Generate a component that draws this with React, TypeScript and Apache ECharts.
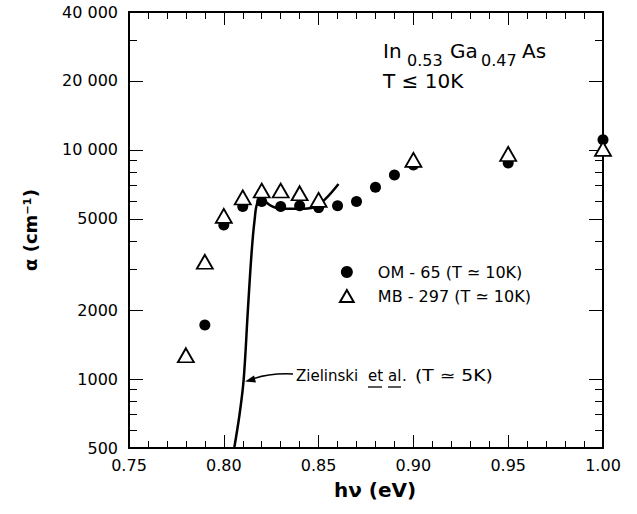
import React, { useEffect, useRef } from "react";
import * as echarts from "echarts";

// OM-65 (filled circles)
const OM65_X = [0.79, 0.8, 0.81, 0.82, 0.83, 0.84, 0.85, 0.86, 0.87, 0.88, 0.89, 0.9, 0.95, 1.0];
const OM65_A = [1720, 4700, 5660, 5950, 5660, 5700, 5600, 5700, 5960, 6870, 7780, 8600, 8780, 11070];

// MB-297 (open triangles)
const MB297_X = [0.78, 0.79, 0.8, 0.81, 0.82, 0.83, 0.84, 0.85, 0.9, 0.95, 1.0];
const MB297_A = [1270, 3250, 5150, 6200, 6650, 6650, 6470, 6050, 9050, 9600, 10100];

// Zielinski et al. curve
const ZIEL_X = [0.8055, 0.8083, 0.8105, 0.8127, 0.8147, 0.8163, 0.8178, 0.8205, 0.825, 0.8296, 0.8395, 0.8475, 0.8535, 0.8605];
const ZIEL_A = [500, 700, 1000, 2000, 3600, 5000, 5900, 6000, 5700, 5530, 5530, 5620, 6100, 7100];

// Axis ticks
const X_MAJOR = [0.75, 0.8, 0.85, 0.9, 0.95, 1.0];
const X_MINOR = [0.76, 0.77, 0.78, 0.79, 0.81, 0.82, 0.83, 0.84, 0.86, 0.87, 0.88, 0.89, 0.91, 0.92, 0.93, 0.94, 0.96, 0.97, 0.98, 0.99];
const Y_MAJOR = [500, 1000, 2000, 5000, 10000, 20000, 40000];
const Y_MINOR = [600, 700, 800, 900, 3000, 4000, 6000, 7000, 8000, 9000, 30000];

const S_OM = "OM - 65 (T ≃ 10K)";
const S_MB = "MB - 297 (T ≃ 10K)";
const S_Z = "Zielinski et al. (T ≃ 5K)";

const FONT = "DejaVu Sans";
const X_MIN = 0.75;
const X_MAX = 1.0;
const LOG_MIN = Math.log10(500);
const LOG_MAX = Math.log10(40000);

function fmtY(v: number): string {
  const n = Math.round(Math.pow(10, v));
  if (n >= 10000) {
    const s = String(n);
    return s.slice(0, s.length - 3) + " " + s.slice(s.length - 3);
  }
  return String(n);
}

const TEXTS: any[] = [
  { type: "text", left: 383, top: 41, style: { text: "In", font: `20px '${FONT}'`, fill: "#000" } },
  { type: "text", left: 407, top: 52, style: { text: "0.53", font: `16px '${FONT}'`, fill: "#000" } },
  { type: "text", left: 450, top: 41, style: { text: "Ga", font: `20px '${FONT}'`, fill: "#000" } },
  { type: "text", left: 481, top: 52, style: { text: "0.47", font: `16px '${FONT}'`, fill: "#000" } },
  { type: "text", left: 522, top: 41, style: { text: "As", font: `20px '${FONT}'`, fill: "#000" } },
  { type: "text", left: 383, top: 71, style: { text: "T ≤ 10K", font: `20px '${FONT}'`, fill: "#000" } },
  { type: "text", left: 296, top: 368, style: { text: "Zielinski", font: `15px '${FONT}'`, fill: "#000" } },
  { type: "text", left: 368, top: 368, style: { text: "et", font: `15px '${FONT}'`, fill: "#000" } },
  { type: "text", left: 388, top: 368, style: { text: "al", font: `15px '${FONT}'`, fill: "#000" } },
  { type: "text", left: 402, top: 368, style: { text: ".", font: `15px '${FONT}'`, fill: "#000" } },
  { type: "text", x: 415, y: 368, scaleX: 1.25, style: { text: "(T ≃ 5K)", font: `15px '${FONT}'`, fill: "#000" } },
  { type: "line", shape: { x1: 368, y1: 387, x2: 382, y2: 387 }, style: { stroke: "#000", lineWidth: 1.3 } },
  { type: "line", shape: { x1: 388, y1: 387, x2: 401, y2: 387 }, style: { stroke: "#000", lineWidth: 1.3 } },
  {
    type: "bezierCurve",
    shape: { x1: 293, y1: 374, cpx1: 272, cpy1: 373, cpx2: 260, cpy2: 376, x2: 250, y2: 380 },
    style: { stroke: "#000", lineWidth: 1.5, fill: null },
  },
  {
    type: "polygon",
    shape: { points: [[245, 381.5], [256, 382.5], [254, 375.5]] },
    style: { fill: "#000" },
  },
];

export default function App() {
  const ref = useRef<HTMLDivElement>(null);
  useEffect(() => {
    const chart = echarts.init(ref.current!, null, { renderer: "svg" });
    const mkLine = () => ({ show: true, onZero: false, lineStyle: { color: "#000", width: 2 } });
    const hiddenLine = () => ({ show: false, onZero: false, lineStyle: { color: "#000" } });

    // Axes that only carry tick marks (no line, no labels, no name)
    const xTickAxis = (pos: string, vals: number[], len: number) => ({
      type: "value",
      position: pos,
      min: X_MIN,
      max: X_MAX,
      axisLine: hiddenLine(),
      axisTick: { show: true, inside: true, length: len, customValues: vals },
      splitLine: { show: false },
      axisLabel: { show: false },
    });
    const yTickAxis = (pos: string, vals: number[], len: number) => ({
      type: "value",
      position: pos,
      min: LOG_MIN,
      max: LOG_MAX,
      axisLine: hiddenLine(),
      axisTick: { show: true, inside: true, length: len, customValues: vals.map((v) => Math.log10(v)) },
      splitLine: { show: false },
      axisLabel: { show: false },
    });

    const xb: any = {
      type: "value",
      position: "bottom",
      min: X_MIN,
      max: X_MAX,
      interval: 0.05,
      axisLine: mkLine(),
      axisTick: { show: false },
      minorTick: { show: false },
      splitLine: { show: false },
      axisLabel: {
        formatter: (v: number) => v.toFixed(2),
        margin: 9,
        fontSize: 16,
        color: "#000",
        fontFamily: FONT,
      },
      name: "hν (eV)",
      nameLocation: "middle",
      nameGap: 32,
      nameTextStyle: { fontSize: 20, fontWeight: "bold", color: "#000", fontFamily: FONT, padding: [0, 0, 0, 18] },
    };
    const xt: any = {
      type: "value",
      position: "top",
      min: X_MIN,
      max: X_MAX,
      interval: 0.05,
      axisLine: mkLine(),
      axisTick: { show: false },
      splitLine: { show: false },
      axisLabel: { show: false },
    };
    const yl: any = {
      type: "value",
      position: "left",
      min: LOG_MIN,
      max: LOG_MAX,
      axisLine: mkLine(),
      axisTick: { show: false },
      splitLine: { show: false },
      axisLabel: {
        customValues: Y_MAJOR.map((v) => Math.log10(v)),
        formatter: (v: number) => fmtY(v),
        margin: 11,
        fontSize: 16,
        color: "#000",
        fontFamily: FONT,
      },
      name: "α (cm⁻¹)",
      nameLocation: "middle",
      nameRotate: 90,
      nameGap: 90,
      nameTextStyle: { fontSize: 18, fontWeight: "bold", color: "#000", fontFamily: FONT },
    };
    const yr: any = {
      type: "value",
      position: "right",
      min: LOG_MIN,
      max: LOG_MAX,
      axisLine: mkLine(),
      axisTick: { show: false },
      splitLine: { show: false },
      axisLabel: { show: false },
    };

    const option: any = {
      animation: false,
      backgroundColor: "#fff",
      grid: { left: 129, top: 12, right: 34, bottom: 66 },
      xAxis: [
        xb,
        xt,
        xTickAxis("bottom", X_MAJOR, 13),
        xTickAxis("bottom", X_MINOR, 7),
        xTickAxis("top", X_MAJOR, 13),
        xTickAxis("top", X_MINOR, 7),
      ],
      yAxis: [
        yl,
        yr,
        yTickAxis("left", Y_MAJOR, 14),
        yTickAxis("left", Y_MINOR, 8),
        yTickAxis("right", Y_MAJOR, 14),
        yTickAxis("right", Y_MINOR, 8),
      ],
      legend: {
        data: [
          { name: S_OM, icon: "circle" },
          { name: S_MB, icon: "path://M8,0 L16,14 L0,14 Z" },
        ],
        orient: "vertical",
        left: 334,
        top: 259,
        itemWidth: 52,
        itemHeight: 12,
        itemGap: 8,
        textStyle: { fontSize: 16, color: "#000", fontFamily: FONT },
      },
      graphic: TEXTS,
      series: [
        {
          name: S_Z,
          type: "line",
          xAxisIndex: 0,
          yAxisIndex: 0,
          data: ZIEL_X.map((x, i) => [x, Math.log10(ZIEL_A[i])]),
          smooth: 0.35,
          symbol: "none",
          showSymbol: false,
          lineStyle: { color: "#000", width: 2.5 },
          z: 2,
        },
        {
          name: S_OM,
          type: "scatter",
          xAxisIndex: 0,
          yAxisIndex: 0,
          data: OM65_X.map((x, i) => [x, Math.log10(OM65_A[i])]),
          symbol: "circle",
          symbolSize: 11,
          itemStyle: { color: "#000", opacity: 1 },
          clip: false,
          z: 3,
        },
        {
          name: S_MB,
          type: "scatter",
          xAxisIndex: 0,
          yAxisIndex: 0,
          data: MB297_X.map((x, i) => [x, Math.log10(MB297_A[i])]),
          symbol: "triangle",
          symbolSize: [16, 14],
          itemStyle: { color: "#fff", borderColor: "#000", borderWidth: 1.8, opacity: 1 },
          clip: false,
          z: 4,
        },
      ],
    };
    chart.setOption(option);
    return () => chart.dispose();
  }, []);
  return (
    <div
      ref={ref}
      style={{ position: "fixed", left: 0, top: 0, width: 637, height: 514, background: "#fff" }}
    />
  );
}
